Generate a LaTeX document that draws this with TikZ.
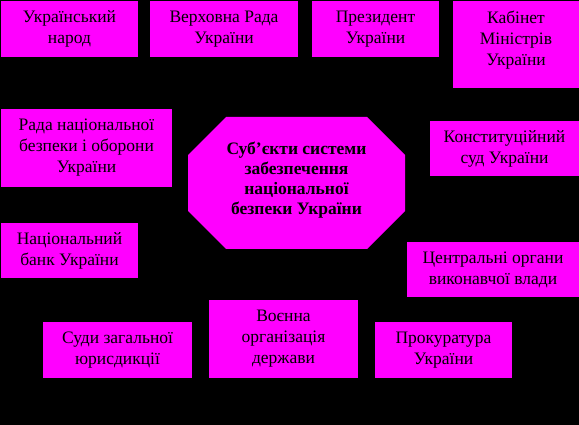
\documentclass[tikz,border=0pt]{standalone}
\usepackage{fontspec}
\setmainfont{Liberation Serif}
\definecolor{boxmag}{RGB}{255,0,255}
\begin{document}
\begin{tikzpicture}[x=1pt,y=-1pt,
  box/.style={fill=boxmag, draw=none, inner sep=0pt, align=center,
    font=\fontsize{17.5}{21}\selectfont, text=black},
  centre/.style={align=center, inner sep=0pt,
    font=\bfseries\fontsize{17.5}{20}\selectfont, text=black}]
\fill[black] (0,0) rectangle (579,425);
\useasboundingbox (0,0) rectangle (579,425);
% central octagon
\fill[boxmag] (226,117) -- (367,117) -- (405,155) -- (405,211) -- (367,249)
  -- (226,249) -- (188,211) -- (188,155) -- cycle;
\node[centre] (c) at (296.5,180) {Суб’єкти системи\\забезпечення\\національної\\безпеки України};
% boxes
\node[box, minimum width=137, minimum height=56] (b1) at (69.5,29) {Український\\народ};
\node[box, minimum width=148, minimum height=56] (b2) at (224,29) {Верховна Рада\\України};
\node[box, minimum width=127, minimum height=56] (b3) at (375.5,29) {Президент\\України};
\node[box, minimum width=126, minimum height=87] (b4) at (516,44.5) {Кабінет\\Міністрів\\України\\[-9pt]\mbox{}};
\node[box, minimum width=171, minimum height=78] (b5) at (86.5,148) {Рада національної\\безпеки і оборони\\України};
\node[box, minimum width=149, minimum height=55] (b7) at (504.5,148.5) {Конституційний\\суд України};
\node[box, minimum width=172, minimum height=55] (b8) at (493,269.5) {Центральні органи\\виконавчої влади};
\node[box, minimum width=137, minimum height=55] (b9) at (69.5,250.5) {Національний\\банк України};
\node[box, minimum width=149, minimum height=56] (b10) at (117.5,350) {Суди загальної\\юрисдикції};
\node[box, minimum width=149, minimum height=78] (b11) at (283.5,339) {Воєнна\\організація\\держави};
\node[box, minimum width=137, minimum height=56] (b12) at (443.5,350) {Прокуратура\\України};
\end{tikzpicture}
\end{document}
